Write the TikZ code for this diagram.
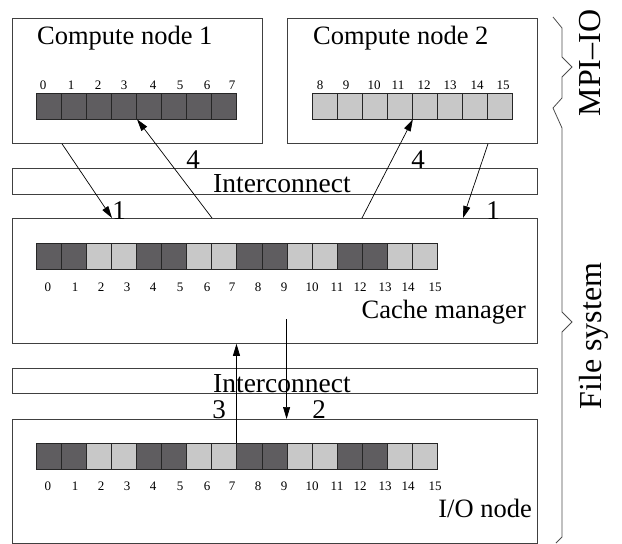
\documentclass[tikz,border=0pt]{standalone}
\usepackage{fontspec}
\setmainfont{Liberation Serif}
\usetikzlibrary{arrows.meta,calc}
\definecolor{darkcell}{RGB}{95,93,96}
\definecolor{lightcell}{RGB}{200,200,200}
\begin{document}
\begin{tikzpicture}[x=1pt,y=-1pt,
  box/.style={draw=black!75,line width=0.8pt,inner sep=0pt,anchor=north west},
  cell/.style={draw=black!85,line width=0.8pt,minimum width=25.06pt,minimum height=25.5pt,inner sep=0pt,anchor=north west},
  dark/.style={cell,fill=darkcell},
  light/.style={cell,fill=lightcell},
  idx/.style={font=\fontsize{13}{13}\selectfont,inner sep=0pt},
  title/.style={font=\fontsize{26.5}{28}\selectfont,inner sep=0pt},
  bus/.style={font=\fontsize{27.5}{28}\selectfont,inner sep=0pt,anchor=base west},
  num/.style={font=\fontsize{27}{28}\selectfont,inner sep=0pt,anchor=base},
  side/.style={font=\fontsize{32}{32}\selectfont,inner sep=0pt,anchor=base,rotate=90},
  flow/.style={draw=black,line width=0.7pt,-{Triangle[length=12pt,width=7pt]}},
  brace/.style={draw=black!70,line width=0.8pt},
]
\useasboundingbox (0,0) rectangle (622,544);

% frames
\node[box,minimum width=250pt,minimum height=125pt] (cn1) at (12,18) {};
\node[box,minimum width=250pt,minimum height=125pt] (cn2) at (287,18) {};
\node[box,minimum width=525pt,minimum height=26pt] (bus1) at (12,168) {};
\node[box,minimum width=525pt,minimum height=125pt] (cache) at (12,218) {};
\node[box,minimum width=525pt,minimum height=25pt] (bus2) at (12,368) {};
\node[box,minimum width=525pt,minimum height=124pt] (ion) at (12,419) {};

% titles
\node[title,anchor=base west] (t1) at (37,44) {Compute node 1};
\node[title,anchor=base west] (t2) at (313,44) {Compute node 2};
\node[title,anchor=base east] (t3) at (526,318) {Cache manager};
\node[title,anchor=base east] (t4) at (532,517) {I/O node};
\node[bus] (b1) at (213,192) {Interconnect};
\node[bus] (b2) at (213,392) {Interconnect};

% blocks held by the compute nodes
\foreach \i in {0,...,7} \node[dark] (a\i) at (36+25.06*\i,93) {};
\foreach \i in {0,...,7} \node[light] (b\i) at (312+25*\i,93) {};
\foreach \n/\x in {0/43,1/71,2/98,3/124,4/153,5/180,6/207,7/232}
  \node[idx] (la\n) at (\x,85) {\n};
\foreach \n/\x in {8/320,9/346,10/374,11/398,12/424,13/450,14/477,15/503}
  \node[idx] (lb\n) at (\x,85) {\n};

% interleaved blocks in the cache and on the I/O node
\foreach \i/\s in {0/dark,1/dark,2/light,3/light,4/dark,5/dark,6/light,7/light,
                   8/dark,9/dark,10/light,11/light,12/dark,13/dark,14/light,15/light}{
  \node[\s] (m\i) at (36+25.06*\i,243) {};
  \node[\s] (d\i) at (36+25.06*\i,443) {};
}
\foreach \n/\x in {0/48,1/75,2/101,3/127,4/153,5/180,6/207,7/232,8/258,9/284,
                   10/312,11/337,12/360,13/385,14/408,15/435}{
  \node[idx] (lm\n) at (\x,287) {\n};
  \node[idx] (ld\n) at (\x,486) {\n};
}

% arrow end points
\coordinate (s1a) at ($(cn1.south west)+(50,0)$);
\coordinate (e1a) at ($(cache.north west)+(100,0)$);
\coordinate (s1b) at ($(cn2.south west)+(201,0)$);
\coordinate (e1b) at ($(cache.north west)+(451,0)$);
\coordinate (s4a) at ($(cache.north west)+(200,0)$);
\coordinate (s4b) at ($(cache.north west)+(350,0)$);
\coordinate (s2) at (m10.south west |- 0,319);
\coordinate (e2) at (m10.south west |- ion.north);
\coordinate (e3) at (d8.north west |- cache.south);

% transfers
\draw[flow] (s1a) -- (e1a);
\draw[flow] (s1b) -- (e1b);
\draw[flow] (s4a) -- (a3.south east);
\draw[flow] (s4b) -- (b3.south east);
\draw[flow] (s2) -- (e2);
\draw[flow] (d8.north west) -- (e3);

% step numbers
\node[num] (n4a) at (193,168) {4};
\node[num] (n4b) at (418,168) {4};
\node[num] (n1a) at (119,219) {1};
\node[num] (n1b) at (493,219) {1};
\node[num] (n3) at (219,418) {3};
\node[num] (n2) at (319,418) {2};

% layer braces
\draw[brace] (553,17) -- (562,28) -- (562,57) -- (572,67) -- (562,77) -- (562,98) -- (553,108);
\draw[brace] (553,108) -- (562,128) -- (562,312) -- (572,322) -- (562,332) -- (562,537) -- (556,543);
\node[side] (mpi) at (600,63) {MPI–IO};
\node[side] (fs) at (601,336) {File system};
\end{tikzpicture}
\end{document}
